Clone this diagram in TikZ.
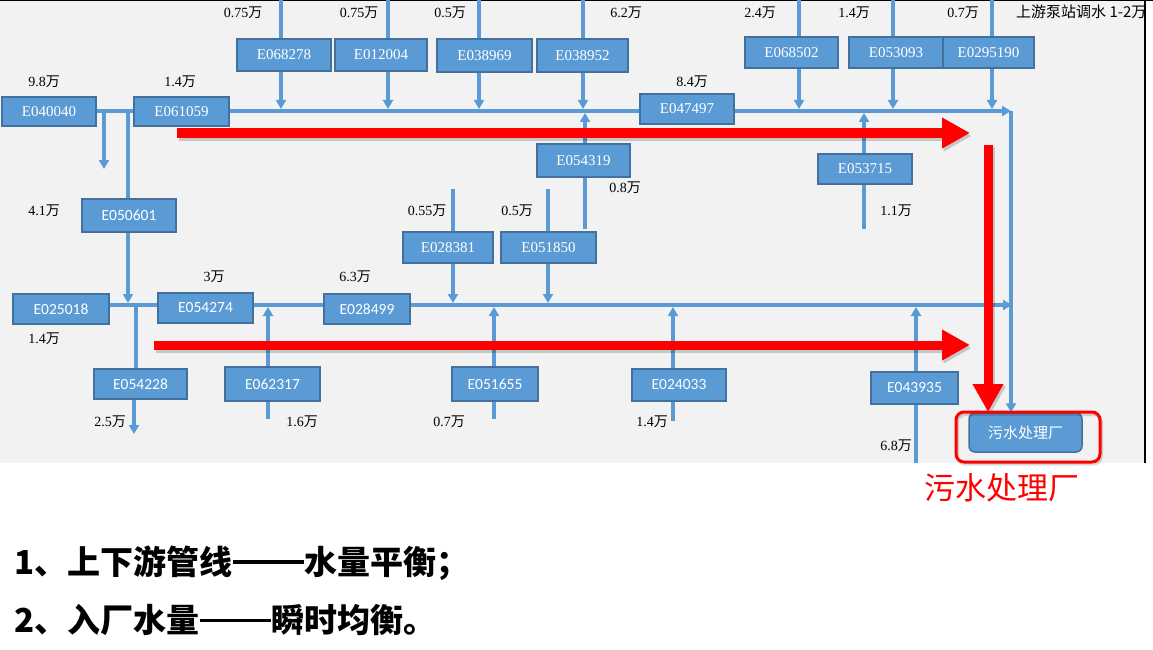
\documentclass[tikz,border=0pt]{standalone}
\usepackage{fontspec}
\setmainfont{Liberation Serif}
\newfontfamily\serf{Liberation Serif}
\newfontfamily\cjk{Noto Sans CJK SC}
\newfontfamily\sfc{Carlito}
\usetikzlibrary{arrows.meta}
\definecolor{bg}{HTML}{F2F2F2}
\definecolor{boxblue}{HTML}{5B9BD5}
\definecolor{boxline}{HTML}{41719C}
\definecolor{pipecol}{HTML}{5B9BD5}
\newcommand\wanz{{\cjk 万}}
\newcommand\longdash{\kern0.02em\raisebox{0.31em}{\rule{2.14em}{0.11em}}\kern0.02em}
\tikzset{
  box/.style={draw=boxline, fill=boxblue, line width=1.5pt, text=white, inner sep=0pt,
    font=\serf\fontsize{15}{15}\selectfont},
  sbox/.style={box, font=\sfc\fontsize{15.5}{15.5}\selectfont},
  pipe/.style={draw=pipecol, line width=3.5pt},
  parr/.style={pipe, -{Triangle[length=9pt,width=10pt]}},
  lab/.style={inner sep=0pt, font=\serf\fontsize{14}{14}\selectfont},
  redarr/.style={draw=red, line width=9pt, -{Triangle[length=28pt,width=29pt]}},
  redshadow/.style={draw=black, opacity=0.18, line width=9pt, -{Triangle[length=28pt,width=29pt]}},
  concl/.style={anchor=west, inner sep=0pt, font=\cjk\bfseries\fontsize{33}{33}\selectfont},
}
\begin{document}
\begin{tikzpicture}[x=1pt,y=-1pt]
\useasboundingbox (0,0) rectangle (1153,650);
\fill[bg] (0,0) rectangle (1145,463);
\draw[black, line width=1.5pt] (0,0.75) -- (1153,0.75);
\draw[black, line width=1.2pt] (1145,0) -- (1145,463);

% boxes
\node[box, minimum width=94pt, minimum height=32pt] (E068278) at (284,55) {E068278};
\node[box, minimum width=92pt, minimum height=32pt] (E012004) at (381,55) {E012004};
\node[box, minimum width=95pt, minimum height=33pt] (E038969) at (484.5,55.5) {E038969};
\node[box, minimum width=91pt, minimum height=33pt] (E038952) at (582.5,55.5) {E038952};
\node[box, minimum width=93pt, minimum height=31pt] (E068502) at (791.5,52.5) {E068502};
\node[box, minimum width=94pt, minimum height=31pt] (E053093) at (896,52.5) {E053093};
\node[box, minimum width=91pt, minimum height=31pt] (E0295190) at (988.5,52.5) {E0295190};
\node[box, minimum width=94pt, minimum height=29pt] (E040040) at (49,111.5) {E040040};
\node[box, minimum width=95pt, minimum height=29pt] (E061059) at (181.5,111.5) {E061059};
\node[box, minimum width=94pt, minimum height=30pt] (E047497) at (687,109) {E047497};
\node[box, minimum width=93pt, minimum height=33pt] (E054319) at (583.5,160.5) {E054319};
\node[box, minimum width=94pt, minimum height=30pt] (E053715) at (865,169) {E053715};
\node[sbox, minimum width=94pt, minimum height=33pt] (E050601) at (129,215.5) {E050601};
\node[box, minimum width=90pt, minimum height=31pt] (E028381) at (448,247.5) {E028381};
\node[box, minimum width=95pt, minimum height=31pt] (E051850) at (548.5,247.5) {E051850};
\node[sbox, minimum width=96pt, minimum height=30pt] (E025018) at (61,309) {E025018};
\node[sbox, minimum width=95pt, minimum height=30pt] (E054274) at (205.5,308) {E054274};
\node[sbox, minimum width=86pt, minimum height=30pt] (E028499) at (367,309) {E028499};
\node[sbox, minimum width=93pt, minimum height=30pt] (E054228) at (140.5,384) {E054228};
\node[sbox, minimum width=95pt, minimum height=34pt] (E062317) at (272.5,384) {E062317};
\node[sbox, minimum width=86pt, minimum height=34pt] (E051655) at (495,384) {E051655};
\node[sbox, minimum width=94pt, minimum height=32pt] (E024033) at (679,385) {E024033};
\node[sbox, minimum width=87pt, minimum height=32pt] (E043935) at (914.5,388) {E043935};
\node[box, rounded corners=6pt, minimum width=113pt, minimum height=39pt,
      font=\cjk\fontsize{15}{15}\selectfont] (plant) at (1025.5,432.5) {污水处理厂};

% main lines
\coordinate (TL) at (0,111);
\coordinate (BL) at (0,305);
\coordinate (tr) at (1011,111);
\coordinate (br) at (1012,305);
\draw[pipe] (E040040.east |- TL) -- (E061059.west |- TL);
\draw[pipe] (E061059.east |- TL) -- (E047497.west |- TL);
\draw[parr] (E047497.east |- TL) -- (tr);
\draw[parr] (tr) -- (tr |- plant.north);
\draw[pipe] (E025018.east |- BL) -- (E054274.west |- BL);
\draw[pipe] (E054274.east |- BL) -- (E028499.west |- BL);
\draw[parr] (E028499.east |- BL) -- (br);

% top inflows
\foreach \n/\x/\lx/\v in {E068278/281/243/0.75, E012004/388/359/0.75, E038969/479/450/0.5,
  E038952/583/626/6.2, E068502/799/760/2.4, E053093/893/854/1.4, E0295190/992/963/0.7}{
  \coordinate (\n-top) at (\x,0);
  \coordinate (\n-j) at (\x,109);
  \draw[pipe] (\n-top) -- (\n-top |- \n.north);
  \draw[parr] (\n-top |- \n.south) -- (\n-j);
  \node[lab] (\n-lab) at (\lx,13) {\v\wanz};
}

% upward inflows into top line
\coordinate (u1) at (585,113);
\coordinate (u1b) at (585,229);
\draw[parr] (u1 |- E054319.north) -- (u1);
\draw[pipe] (u1b) -- (u1b |- E054319.south);
\coordinate (u2) at (864,113);
\coordinate (u2b) at (864,229);
\draw[parr] (u2 |- E053715.north) -- (u2);
\draw[pipe] (u2b) -- (u2b |- E053715.south);

% left branch
\coordinate (d1) at (104,169);
\draw[parr] (d1 |- TL) -- (d1);
\coordinate (v1) at (128,111);
\coordinate (v1e) at (128,303);
\draw[pipe] (v1) -- (v1 |- E050601.north);
\draw[parr] (v1 |- E050601.south) -- (v1e);
\coordinate (v2) at (136,305);
\draw[pipe] (v2) -- (v2 |- E054228.north);
\coordinate (v3) at (134,434);
\draw[parr] (v3 |- E054228.south) -- (v3);

% lower downward inflows
\coordinate (w1) at (453,189);
\coordinate (w1j) at (453,303);
\draw[pipe] (w1) -- (w1 |- E028381.north);
\draw[parr] (w1 |- E028381.south) -- (w1j);
\coordinate (w2) at (548,189);
\coordinate (w2j) at (548,303);
\draw[pipe] (w2) -- (w2 |- E051850.north);
\draw[parr] (w2 |- E051850.south) -- (w2j);

% lower upward inflows
\foreach \n/\x/\yb in {E062317/268/419, E051655/494/419, E024033/673/421, E043935/916/463}{
  \coordinate (\n-j) at (\x,307);
  \coordinate (\n-b) at (\x,\yb);
  \draw[parr] (\n-j |- \n.north) -- (\n-j);
  \draw[pipe] (\n-b) -- (\n-b |- \n.south);
}

% labels
\node[lab] (l98) at (44,82) {9.8\wanz};
\node[lab] (l14a) at (180,82) {1.4\wanz};
\node[lab] (l84) at (692,82) {8.4\wanz};
\node[lab] (l41) at (44,211) {4.1\wanz};
\node[lab] (l08) at (625,188) {0.8\wanz};
\node[lab] (l11) at (896,211) {1.1\wanz};
\node[lab] (l055) at (427,211) {0.55\wanz};
\node[lab] (l05) at (517,211) {0.5\wanz};
\node[lab] (l3) at (214,277) {3\wanz};
\node[lab] (l63) at (355,277) {6.3\wanz};
\node[lab] (l14b) at (44,339) {1.4\wanz};
\node[lab] (l25) at (110,422) {2.5\wanz};
\node[lab] (l16) at (302,422) {1.6\wanz};
\node[lab] (l07) at (449,422) {0.7\wanz};
\node[lab] (l14c) at (652,422) {1.4\wanz};
\node[lab] (l68) at (896,446) {6.8\wanz};
\begin{scope}
\clip (0,0) rectangle (1144,463);
\node[anchor=west, inner sep=0pt, font=\cjk\fontsize{15}{15}\selectfont] (note) at (1016,12) {上游泵站调水 1-2万};
\end{scope}

% red arrows
\coordinate (r1s) at (177,133); \coordinate (r1e) at (970,133);
\coordinate (r2s) at (154,345); \coordinate (r2e) at (970,345);
\coordinate (r3s) at (988,145); \coordinate (r3e) at (988,412);
\draw[redshadow] ([shift={(1.5,3)}]r1s) -- ([shift={(1.5,3)}]r1e);
\draw[redshadow] ([shift={(1.5,3)}]r2s) -- ([shift={(1.5,3)}]r2e);
\draw[redshadow] ([shift={(2.5,2)}]r3s) -- ([shift={(2.5,2)}]r3e);
\draw[redarr] (r1s) -- (r1e);
\draw[redarr] (r2s) -- (r2e);
\draw[redarr] (r3s) -- (r3e);

% highlight frame
\draw[black, opacity=0.15, line width=3pt, rounded corners=8pt] (957.5,414.5) rectangle (1101.5,464);
\draw[red, line width=3pt, rounded corners=8pt] (956,412) rectangle (1100,462);
\node[inner sep=0pt, text=red, font=\cjk\fontsize{31}{31}\selectfont] (redtxt) at (1002,488) {污水处理厂};

% conclusions
\node[concl] (c1) at (14,563) {1、上下游管线\longdash 水量平衡；};
\node[concl] (c2) at (14,620) {2、入厂水量\longdash 瞬时均衡。};
\end{tikzpicture}
\end{document}
